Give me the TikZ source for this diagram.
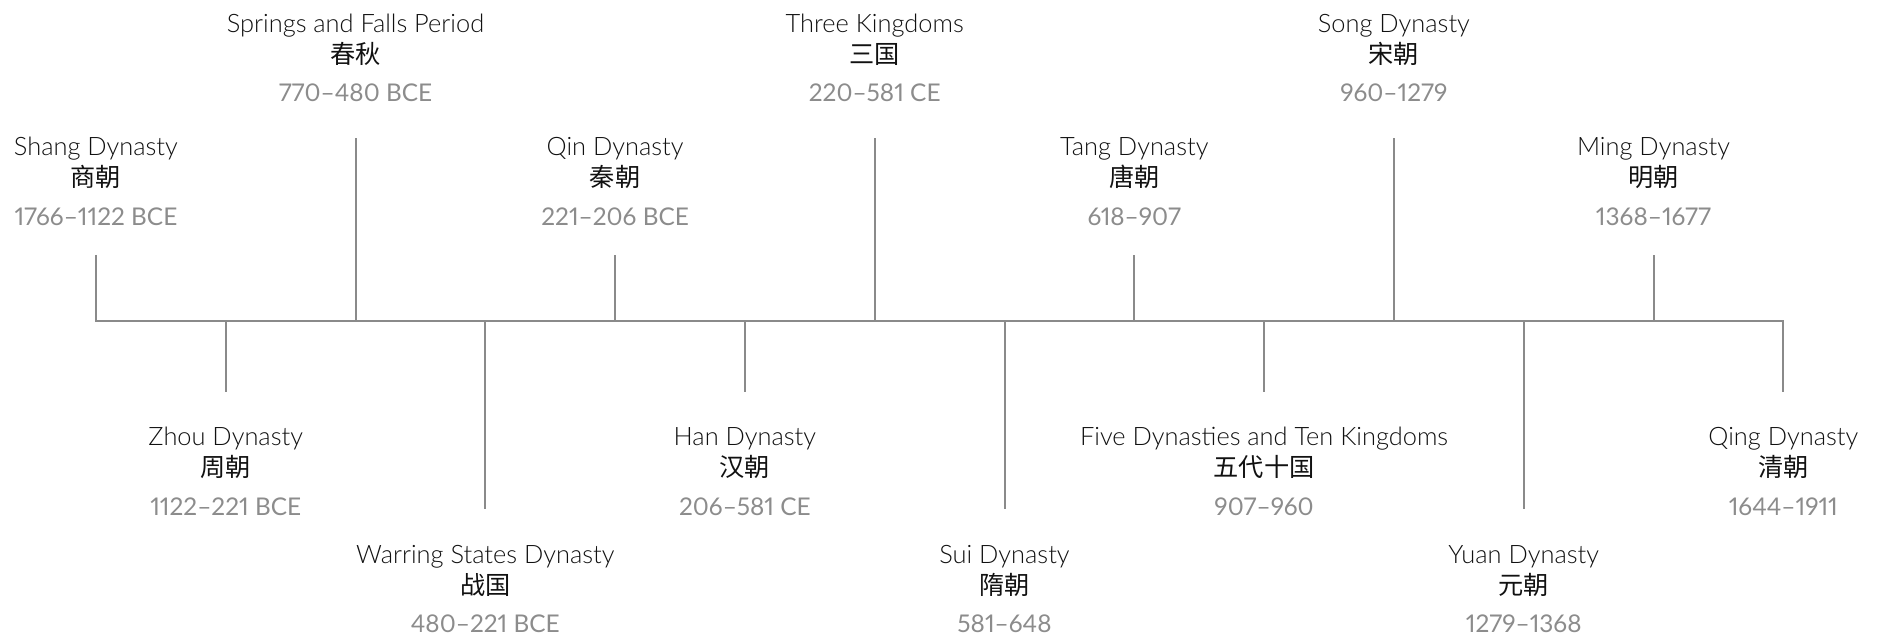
\documentclass[tikz,border=0pt]{standalone}
\usepackage{fontspec}
\setmainfont{Lato}[UprightFont=* Light]
\newfontfamily\datefont{Lato}[Numbers=Proportional]
\newfontfamily\cjk{Noto Sans CJK SC}
\definecolor{linegray}{HTML}{8A8A8A}
\definecolor{dategray}{HTML}{8C8C8C}
\definecolor{txt}{HTML}{111111}
\tikzset{
  tl/.style={draw=linegray, line width=1pt},
  en/.style={anchor=base, inner sep=0pt, text=txt, font=\fontsize{12.7}{13}\selectfont},
  zh/.style={anchor=base, inner sep=0pt, text=txt, font=\cjk\fontsize{12.6}{13}\selectfont},
  dt/.style={anchor=base, inner sep=0pt, text=dategray, font=\datefont\fontsize{12.2}{13}\selectfont},
}
\newcommand\dyn[6]{%
  \coordinate (t#1) at ({95.9+129.8*#1},#2);
  \coordinate (m#1) at ({95.9+129.8*#1},321);
  \node[en] (e#1) at ({95.9+129.8*#1},#3) {#4};
  \node[zh] (c#1) at ({95.9+129.8*#1},{#3+31}) {#5};
  \node[dt] (d#1) at ({95.9+129.8*#1},{#3+69.5}) {#6};
}
\begin{document}
\begin{tikzpicture}[x=0.5pt,y=-0.5pt]
\useasboundingbox (0,0) rectangle (1879,640);
\dyn{0}{255}{156}{Shang Dynasty}{商朝}{1766–1122 BCE}
\dyn{1}{392}{446}{Zhou Dynasty}{周朝}{1122–221 BCE}
\dyn{2}{138}{32.3}{Springs and Falls Period}{春秋}{770–480 BCE}
\dyn{3}{509}{563.3}{Warring States Dynasty}{战国}{480–221 BCE}
\dyn{4}{255}{156}{Qin Dynasty}{秦朝}{221–206 BCE}
\dyn{5}{392}{446}{Han Dynasty}{汉朝}{206–581 CE}
\dyn{6}{138}{32.3}{Three Kingdoms}{三国}{220–581 CE}
\dyn{7}{509}{563.3}{Sui Dynasty}{隋朝}{581–648}
\dyn{8}{255}{156}{Tang Dynasty}{唐朝}{618–907}
\dyn{9}{392}{446}{Five Dynasties and Ten Kingdoms}{五代十国}{907–960}
\dyn{10}{138}{32.3}{Song Dynasty}{宋朝}{960–1279}
\dyn{11}{509}{563.3}{Yuan Dynasty}{元朝}{1279–1368}
\dyn{12}{255}{156}{Ming Dynasty}{明朝}{1368–1677}
\dyn{13}{392}{446}{Qing Dynasty}{清朝}{1644–1911}
\draw[tl] (t0) -- (m0) -- (m13) -- (t13);
\foreach \k in {1,...,12} { \draw[tl] (m\k) -- (t\k); }
\end{tikzpicture}
\end{document}
